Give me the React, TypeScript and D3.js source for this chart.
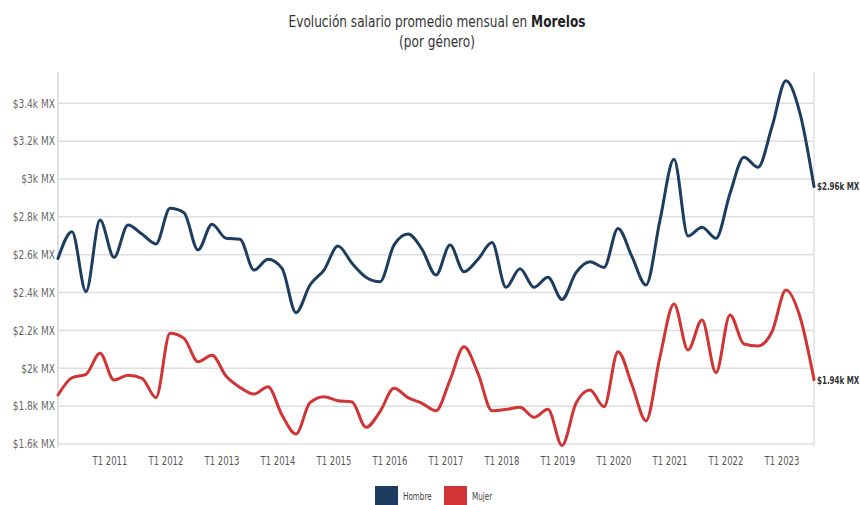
import * as d3 from 'd3';
import type { ReactNode } from 'react';

// quarterly average monthly salary, T1 2010 .. T3 2023 (MXN)
const years = d3.range(2010, 2024);
const quarters = years.flatMap((y) => ['T1', 'T2', 'T3', 'T4'].map((q) => `${q} ${y}`)).slice(0, 55);

const hombre = [
  2580, 2722, 2405, 2783, 2586, 2757, 2709, 2657, 2845, 2822,
  2625, 2761, 2687, 2682, 2519, 2576, 2528, 2294, 2440, 2519,
  2646, 2555, 2481, 2457, 2651, 2709, 2629, 2493, 2651, 2510,
  2576, 2664, 2428, 2526, 2428, 2481, 2364, 2505, 2563, 2533,
  2739, 2590, 2440, 2783, 3104, 2699, 2745, 2687, 2924, 3115,
  3062, 3276, 3519, 3347, 2960,
];

const mujer = [
  1859, 1950, 1968, 2079, 1938, 1963, 1947, 1845, 2185, 2158,
  2035, 2069, 1959, 1899, 1864, 1903, 1753, 1653, 1818, 1850,
  1829, 1822, 1688, 1771, 1894, 1845, 1815, 1776, 1938, 2114,
  1973, 1776, 1783, 1794, 1741, 1783, 1592, 1815, 1885, 1797,
  2088, 1912, 1723, 2061, 2340, 2097, 2255, 1977, 2282, 2128,
  2118, 2193, 2414, 2272, 1940,
];

const yTicks = [1600, 1800, 2000, 2200, 2400, 2600, 2800, 3000, 3200, 3400];
const xTickLabels = years.slice(1).map((y) => `T1 ${y}`);

const series = [
  { name: 'Hombre', values: hombre, color: '#1d3d60' },
  { name: 'Mujer', values: mujer, color: '#d13434' },
];

const font = '"DejaVu Sans Condensed", "Roboto", sans-serif';

// narrow text: the original uses a condensed face, squeeze horizontally
function T(props: {
  x: number;
  y: number;
  sx?: number;
  size: number;
  anchor?: 'start' | 'middle' | 'end';
  fill?: string;
  weight?: string;
  children: ReactNode;
}) {
  const { x, y, sx = 0.82, size, anchor = 'start', fill = '#555', weight = 'normal', children } = props;
  return (
    <text
      transform={`translate(${x},${y}) scale(${sx},1)`}
      dy="0.35em"
      textAnchor={anchor}
      fontSize={size}
      fontWeight={weight}
      fill={fill}
    >
      {children}
    </text>
  );
}

export default function App() {
  const width = 860;
  const height = 505;

  const x = d3.scaleLinear().domain([0, quarters.length - 1]).range([58, 814]);
  const y = d3.scaleLinear().domain([1600, 3400]).range([444, 103.3]);
  const yTop = y(3565);

  const line = d3
    .line<number>()
    .x((_, i) => x(i))
    .y((d) => y(d))
    .curve(d3.curveMonotoneX);

  const fmt = (v: number) => `$${+(v / 1000).toFixed(2)}k MX`;

  return (
    <svg
      width={width}
      height={height}
      style={{ position: 'absolute', left: 0, top: 0, background: '#fff' }}
      fontFamily={font}
    >
      <T x={437} y={22} size={15} sx={0.9} anchor="middle" fill="#333">
        Evolución salario promedio mensual en <tspan fontWeight="bold" fill="#222">Morelos</tspan>
      </T>
      <T x={437} y={42} size={15} sx={0.9} anchor="middle" fill="#333">
        (por género)
      </T>

      {yTicks.map((t) => (
        <g key={t}>
          <line x1={58} x2={814} y1={y(t)} y2={y(t)} stroke="#dedede" strokeWidth={1.5} />
          <T x={55} y={y(t)} size={12} sx={0.84} anchor="end" fill="#666">
            {fmt(t)}
          </T>
        </g>
      ))}

      <line x1={58} x2={58} y1={yTop} y2={447} stroke="#d6d6d6" strokeWidth={1.5} />
      <line x1={814} x2={814} y1={yTop} y2={447} stroke="#e2e2e2" strokeWidth={1.5} />

      {xTickLabels.map((lab) => {
        const i = quarters.indexOf(lab);
        return (
          <T key={lab} x={x(i) - 4} y={461} size={11.5} anchor="middle" fill="#555">
            {lab}
          </T>
        );
      })}

      {series.map((s) => (
        <g key={s.name}>
          <path
            d={line(s.values) ?? ''}
            fill="none"
            stroke={s.color}
            strokeWidth={3}
            strokeLinejoin="round"
            strokeLinecap="round"
          />
          <T
            x={x(s.values.length - 1) + 3}
            y={y(s.values[s.values.length - 1])}
            size={11}
            sx={0.72}
            weight="bold"
            fill="#333"
          >
            {fmt(s.values[s.values.length - 1])}
          </T>
        </g>
      ))}

      {series.map((s, i) => {
        const lx = 375 + i * 69;
        return (
          <g key={s.name}>
            <rect x={lx} y={486} width={23} height={19} fill={s.color} />
            <T x={lx + 28} y={496} size={10} sx={0.8} fill="#444">
              {s.name}
            </T>
          </g>
        );
      })}
    </svg>
  );
}
